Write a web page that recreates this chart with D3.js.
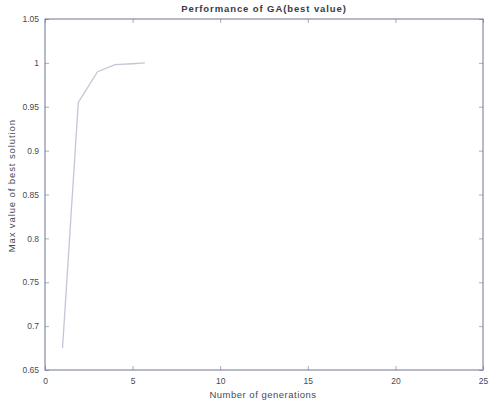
<!DOCTYPE html>
<html>
<head>
<meta charset="utf-8">
<script src="https://cdn.jsdelivr.net/npm/d3@7"></script>
<style>
  html, body { margin: 0; padding: 0; background: #fff; }
  svg { display: block; }
  text { font-family: "Liberation Sans", Arial, sans-serif; }
</style>
</head>
<body>
<svg id="chart" width="489" height="403"></svg>
<script>
// Best fitness found by the GA at each generation
const generations = [1, 1.9, 3, 4, 5, 5.7];
const bestValues = [0.675, 0.955, 0.99, 0.998, 0.999, 1.0];

const xTicks = [0, 5, 10, 15, 20, 25];
const yTicks = [0.65, 0.7, 0.75, 0.8, 0.85, 0.9, 0.95, 1, 1.05];

const titleText = "Performance of GA(best value)";
const xLabel = "Number of generations";
const yLabel = "Max value of best solution";

const margin = { left: 45, right: 6, top: 19, bottom: 33 };
const W = 489, H = 403;
const svg = d3.select("#chart");

const x = d3.scaleLinear().domain([0, 25]).range([margin.left, W - margin.right]);
const y = d3.scaleLinear().domain([0.65, 1.05]).range([H - margin.bottom, margin.top]);

const axisColor = "#6f7490";
const textColor = "#4a4a52";

// plot box
svg.append("rect")
  .attr("x", x(0)).attr("y", y(1.05))
  .attr("width", x(25) - x(0)).attr("height", y(0.65) - y(1.05))
  .attr("fill", "#fff").attr("stroke", axisColor).attr("stroke-width", 1);

function styleAxis(g) {
  g.select(".domain").remove();
  g.selectAll(".tick line").attr("stroke", axisColor).attr("stroke-opacity", 0.6);
  g.selectAll(".tick text").attr("fill", textColor).attr("font-size", 8.5);
}

const fmtY = d => d3.format("")(+d.toFixed(2));

// bottom / left axes with inward ticks
svg.append("g").attr("transform", `translate(0,${y(0.65)})`)
  .call(d3.axisBottom(x).tickValues(xTicks).tickSize(-4).tickPadding(8).tickFormat(d3.format("d")))
  .call(styleAxis);
svg.append("g").attr("transform", `translate(${x(0)},0)`)
  .call(d3.axisLeft(y).tickValues(yTicks).tickSize(-4).tickPadding(6).tickFormat(fmtY))
  .call(styleAxis);
// mirrored ticks on top / right
svg.append("g").attr("transform", `translate(0,${y(1.05)})`)
  .call(d3.axisTop(x).tickValues(xTicks).tickSize(-4).tickFormat(""))
  .call(styleAxis);
svg.append("g").attr("transform", `translate(${x(25)},0)`)
  .call(d3.axisRight(y).tickValues(yTicks).tickSize(-4).tickFormat(""))
  .call(styleAxis);

// best-value curve
svg.append("path")
  .datum(generations.map((g, i) => [g, bestValues[i]]))
  .attr("fill", "none")
  .attr("stroke", "#c3c6d6")
  .attr("stroke-width", 1.3)
  .attr("d", d3.line().x(d => x(d[0])).y(d => y(d[1])));

// title and axis labels
svg.append("text")
  .attr("x", 264).attr("y", 12)
  .attr("text-anchor", "middle").attr("font-size", 9.5).attr("font-weight", "bold")
  .attr("letter-spacing", 0.9)
  .attr("fill", "#3a3a44").text(titleText);
svg.append("text")
  .attr("x", 263).attr("y", 398)
  .attr("text-anchor", "middle").attr("font-size", 9.5)
  .attr("letter-spacing", 0.5)
  .attr("fill", textColor).text(xLabel);
svg.append("text")
  .attr("transform", `translate(15,${y(0.86)}) rotate(-90)`)
  .attr("text-anchor", "middle").attr("font-size", 9.5)
  .attr("letter-spacing", 0.9)
  .attr("fill", textColor).text(yLabel);
</script>
</body>
</html>
